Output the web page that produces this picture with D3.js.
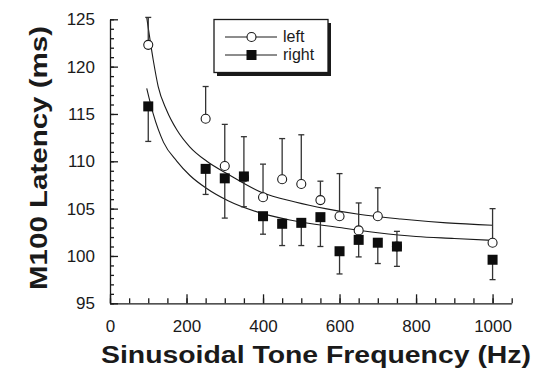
<!DOCTYPE html>
<html>
<head>
<meta charset="utf-8">
<script src="https://cdn.jsdelivr.net/npm/d3@7"></script>
<style>
  body { margin: 0; background: #fff; }
  svg { display: block; font-family: "Liberation Sans", Arial, Helvetica, sans-serif; }
</style>
</head>
<body>
<svg id="chart" width="540" height="370"></svg>
<script>
// tone frequencies (Hz)
const freqs = [100, 250, 300, 350, 400, 450, 500, 550, 600, 650, 700, 750, 1000];
// left hemisphere M100 latency (ms) and upward error
const leftMs  = [122.3, 114.5, 109.5, 108.3, 106.2, 108.1, 107.6, 105.9, 104.2, 102.7, 104.2, 101.0, 101.4];
const leftErr = [2.9, 3.4, 4.4, 4.3, 3.5, 4.3, 5.2, 2.0, 4.5, 2.9, 3.0, 1.6, 3.6];
// right hemisphere latency (ms) and downward error
const rightMs  = [115.8, 109.2, 108.2, 108.4, 104.2, 103.4, 103.5, 104.1, 100.5, 101.7, 101.4, 101.0, 99.6];
const rightErr = [3.7, 2.7, 4.2, 3.2, 1.9, 2.3, 2.4, 3.1, 2.4, 1.8, 2.2, 2.1, 2.1];

// fitted curves
const leftFitHz = [96, 113, 126, 148, 175, 209, 253, 310, 397, 484, 563, 650, 760, 880, 1000];
const leftFitMs = [125.2, 120.7, 117.9, 115.4, 113.3, 111.5, 110.0, 108.6, 106.7, 105.7, 105.0, 104.4, 103.9, 103.5, 103.25];
const rightFitHz = [96, 113, 140, 175, 209, 250, 310, 397, 470, 600, 700, 800, 900, 1000];
const rightFitMs = [117.7, 115.0, 112.0, 110.0, 108.5, 107.2, 105.8, 104.5, 103.8, 103.0, 102.45, 102.05, 101.85, 101.65];

const xTicks = [0, 200, 400, 600, 800, 1000];
const yTicks = [95, 100, 105, 110, 115, 120, 125];

const svg = d3.select("#chart");
const ink = "#1a1a1a";

const x = d3.scaleLinear().domain([0, 1050]).range([110, 511.7]);
const y = d3.scaleLinear().domain([95, 125]).range([303.3, 19.3]);

// x axis: minor ticks then major ticks with labels
svg.append("g")
  .attr("transform", "translate(0," + y(95) + ")")
  .call(d3.axisBottom(x).tickValues(d3.range(0, 1051, 50)).tickSizeInner(-5).tickSizeOuter(0).tickFormat(""))
  .call(g => g.selectAll("line,path").attr("stroke", ink).attr("stroke-width", 1.3));

svg.append("g")
  .attr("transform", "translate(0," + y(95) + ")")
  .call(d3.axisBottom(x).tickValues(xTicks).tickSizeInner(-9).tickSizeOuter(0).tickPadding(17).tickFormat(d3.format("d")))
  .call(g => g.select(".domain").remove())
  .call(g => g.selectAll("line").attr("stroke", ink).attr("stroke-width", 1.3))
  .call(g => g.selectAll("text").attr("fill", ink).style("font-size", "17px"));

// y axis
svg.append("g")
  .attr("transform", "translate(" + x(0) + ",0)")
  .call(d3.axisLeft(y).tickValues(d3.range(95, 125.5, 1)).tickSizeInner(-4).tickSizeOuter(0).tickFormat(""))
  .call(g => g.selectAll("line,path").attr("stroke", ink).attr("stroke-width", 1.3));

svg.append("g")
  .attr("transform", "translate(" + x(0) + ",0)")
  .call(d3.axisLeft(y).tickValues(yTicks).tickSizeInner(-8).tickSizeOuter(0).tickPadding(15))
  .call(g => g.select(".domain").remove())
  .call(g => g.selectAll("line").attr("stroke", ink).attr("stroke-width", 1.3))
  .call(g => g.selectAll("text").attr("fill", ink).style("font-size", "17px"));

// axis titles
svg.append("text")
  .attr("x", 316).attr("y", 363)
  .attr("text-anchor", "middle")
  .attr("textLength", 430).attr("lengthAdjust", "spacingAndGlyphs")
  .style("font-size", "23px").style("font-weight", "bold").attr("fill", ink)
  .text("Sinusoidal Tone Frequency (Hz)");

svg.append("text")
  .attr("transform", "translate(47,158) rotate(-90)")
  .attr("text-anchor", "middle")
  .attr("textLength", 264).attr("lengthAdjust", "spacingAndGlyphs")
  .style("font-size", "24px").style("font-weight", "bold").attr("fill", ink)
  .text("M100 Latency (ms)");

// fitted curves
const fitLine = d3.line().x(d => x(d[0])).y(d => y(d[1])).curve(d3.curveMonotoneX);
svg.append("path")
  .datum(d3.zip(leftFitHz, leftFitMs))
  .attr("d", fitLine).attr("fill", "none").attr("stroke", ink).attr("stroke-width", 1.1);
svg.append("path")
  .datum(d3.zip(rightFitHz, rightFitMs))
  .attr("d", fitLine).attr("fill", "none").attr("stroke", ink).attr("stroke-width", 1.1);

// error bars: left goes up, right goes down
const left = freqs.map((f, i) => ({ f: f, v: leftMs[i], e: leftMs[i] + leftErr[i] }));
const right = freqs.map((f, i) => ({ f: f, v: rightMs[i], e: rightMs[i] - rightErr[i] }));

function errorBars(data) {
  const g = svg.append("g").attr("stroke", "#333").attr("stroke-width", 1.3);
  g.selectAll("line.bar").data(data).enter().append("line")
    .attr("x1", d => x(d.f)).attr("x2", d => x(d.f))
    .attr("y1", d => y(d.v)).attr("y2", d => y(d.e));
  g.selectAll("line.cap").data(data).enter().append("line")
    .attr("x1", d => x(d.f) - 3).attr("x2", d => x(d.f) + 3)
    .attr("y1", d => y(d.e)).attr("y2", d => y(d.e));
}
errorBars(left);
errorBars(right);

// markers
svg.append("g").selectAll("circle").data(left).enter().append("circle")
  .attr("cx", d => x(d.f)).attr("cy", d => y(d.v)).attr("r", 4.5)
  .attr("fill", "#fff").attr("stroke", ink).attr("stroke-width", 1.1);

svg.append("g").selectAll("rect").data(right).enter().append("rect")
  .attr("x", d => x(d.f) - 5).attr("y", d => y(d.v) - 5)
  .attr("width", 10).attr("height", 10).attr("fill", "#0d0d0d");

// legend
const lg = svg.append("g");
lg.append("rect").attr("x", 217).attr("y", 23).attr("width", 114).attr("height", 53).attr("fill", ink);
lg.append("rect").attr("x", 214).attr("y", 19.5).attr("width", 114).attr("height", 53)
  .attr("fill", "#fff").attr("stroke", ink).attr("stroke-width", 1.3);

lg.append("line").attr("x1", 225).attr("x2", 277).attr("y1", 37).attr("y2", 37).attr("stroke", ink);
lg.append("circle").attr("cx", 251.5).attr("cy", 37).attr("r", 4.5).attr("fill", "#fff").attr("stroke", ink).attr("stroke-width", 1.1);
lg.append("text").attr("x", 283).attr("y", 42).style("font-size", "16px").attr("fill", ink).text("left");

lg.append("line").attr("x1", 225).attr("x2", 277).attr("y1", 55).attr("y2", 55).attr("stroke", ink);
lg.append("rect").attr("x", 246.5).attr("y", 50).attr("width", 10).attr("height", 10).attr("fill", "#0d0d0d");
lg.append("text").attr("x", 283).attr("y", 60).style("font-size", "16px").attr("fill", ink).text("right");
</script>
</body>
</html>
